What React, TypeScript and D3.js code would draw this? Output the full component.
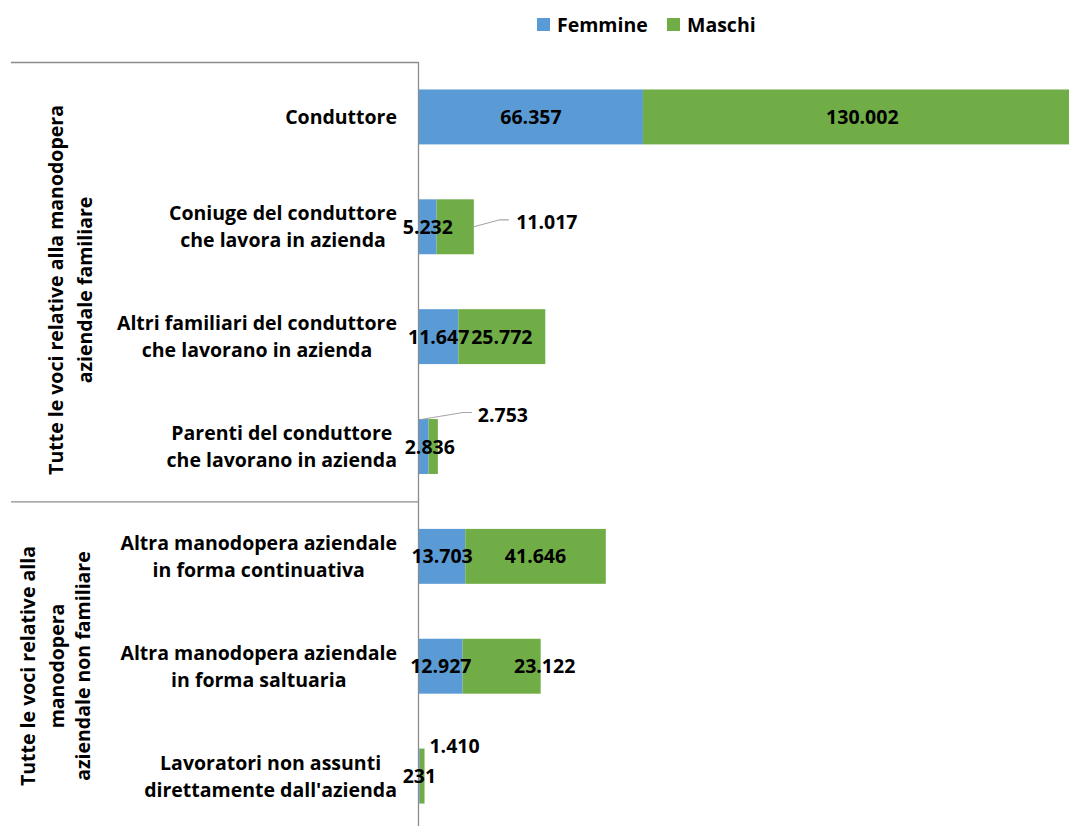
import React, { useEffect, useRef } from "react";
import * as d3 from "d3";

const categories: string[][] = [
  ["Conduttore"],
  ["Coniuge del conduttore", "che lavora in azienda"],
  ["Altri familiari del conduttore", "che lavorano in azienda"],
  ["Parenti del conduttore", "che lavorano in azienda"],
  ["Altra manodopera aziendale", "in forma continuativa"],
  ["Altra manodopera aziendale", "in forma saltuaria"],
  ["Lavoratori non assunti", "direttamente dall'azienda"],
];
const femmine = [66357, 5232, 11647, 2836, 13703, 12927, 231];
const maschi = [130002, 11017, 25772, 2753, 41646, 23122, 1410];
const seriesNames = ["Femmine", "Maschi"];
const groupLabels: string[][] = [
  ["Tutte le voci relative alla manodopera", "aziendale familiare"],
  ["Tutte le voci relative alla", "manodopera", "aziendale non familiare"],
];

const W = 1069;
const H = 826;
const FONT = "'Open Sans', 'Noto Sans', sans-serif";
const FS = 19.5;
const BLUE = "#5B9BD5";
const GREEN = "#70AD47";
const GRID = "#8c8c8c";

export default function App() {
  const ref = useRef<SVGSVGElement | null>(null);

  useEffect(() => {
    const svg = d3.select(ref.current);
    svg.selectAll("*").remove();

    const x = d3.scaleLinear().domain([0, 200000]).range([419, 1094]);
    const idx = categories.map((_, i) => String(i));
    const y = d3
      .scaleBand<string>()
      .domain(idx)
      .range([62, 831])
      .paddingInner(0.5)
      .paddingOuter(0.25);
    const bw = y.bandwidth();
    const step = y.step();

    const loc = d3.formatLocale({
      thousands: ".",
      decimal: ",",
      grouping: [3],
      currency: ["€", ""],
    });
    const fmt = loc.format(",d");

    const g = svg.append("g").attr("font-family", FONT).attr("font-weight", "bold");

    // structure lines
    const sepYs = [62, (y("3") as number) + bw + step * 0.25];
    sepYs.forEach((sy) => {
      g.append("line")
        .attr("x1", 11)
        .attr("x2", 418.5)
        .attr("y1", sy + 0.5)
        .attr("y2", sy + 0.5)
        .attr("stroke", GRID)
        .attr("stroke-width", 1.3);
    });
    g.append("line")
      .attr("x1", 418.5)
      .attr("x2", 418.5)
      .attr("y1", 62)
      .attr("y2", H)
      .attr("stroke", GRID)
      .attr("stroke-width", 1.3);

    // bars
    categories.forEach((_, i) => {
      const by = y(String(i)) as number;
      const f = femmine[i];
      const m = maschi[i];
      g.append("rect")
        .attr("x", x(0))
        .attr("y", by)
        .attr("width", x(f) - x(0))
        .attr("height", bw)
        .attr("fill", BLUE);
      g.append("rect")
        .attr("x", x(f))
        .attr("y", by)
        .attr("width", x(f + m) - x(f))
        .attr("height", bw)
        .attr("fill", GREEN);
    });

    // data labels
    const outside: Record<number, { dx: number; dy: number; leader?: [number, number][] }> = {
      1: { dx: 73, dy: -5, leader: [[0, 0], [26, -7], [35, -7]] },
      3: { dx: 65, dy: -32, leader: [[-17, -27], [25, -34], [34, -34]] },
      6: { dx: 30, dy: -30 },
    };
    const femShift: Record<number, number> = { 3: 6 };
    const masShift: Record<number, number> = { 5: 43 };
    categories.forEach((_, i) => {
      const cy = (y(String(i)) as number) + bw / 2;
      const f = femmine[i];
      const m = maschi[i];
      g.append("text")
        .attr("x", (x(0) + x(f)) / 2 + (femShift[i] || 0))
        .attr("y", cy)
        .attr("dy", "0.36em")
        .attr("text-anchor", "middle")
        .attr("font-size", FS)
        .attr("fill", "#000")
        .text(fmt(f));
      const o = outside[i];
      if (o) {
        const ex = x(f + m);
        if (o.leader) {
          g.append("polyline")
            .attr("points", o.leader.map(([a, b]) => `${ex + a},${cy + b}`).join(" "))
            .attr("fill", "none")
            .attr("stroke", "#a6a6a6")
            .attr("stroke-width", 1.2);
        }
        g.append("text")
          .attr("x", ex + o.dx)
          .attr("y", cy + o.dy)
          .attr("dy", "0.36em")
          .attr("text-anchor", "middle")
          .attr("font-size", FS)
          .attr("fill", "#000")
          .text(fmt(m));
      } else {
        g.append("text")
          .attr("x", Math.min((x(f) + x(f + m)) / 2, (x(f) + W) / 2 + 25) + (masShift[i] || 0))
          .attr("y", cy)
          .attr("dy", "0.36em")
          .attr("text-anchor", "middle")
          .attr("font-size", FS)
          .attr("fill", "#000")
          .text(fmt(m));
      }
    });

    // category labels (lines centred on each other, right-aligned block)
    const RIGHT = 397;
    const LH = 27;
    categories.forEach((lines, i) => {
      const cy = (y(String(i)) as number) + bw / 2;
      const texts = lines.map((ln, k) =>
        g
          .append("text")
          .attr("y", cy + (k - (lines.length - 1) / 2) * LH)
          .attr("dy", "0.36em")
          .attr("text-anchor", "middle")
          .attr("font-size", FS)
          .attr("fill", "#000")
          .text(ln)
      );
      const maxW = d3.max(texts, (t) => (t.node() as SVGTextElement).getComputedTextLength()) || 0;
      texts.forEach((t) => t.attr("x", RIGHT - maxW / 2));
    });

    // group labels (rotated)
    const groupCenters = [290, 666];
    const groupX = [[56, 85], [28, 57, 83]];
    groupLabels.forEach((lines, gi) => {
      lines.forEach((ln, k) => {
        g.append("text")
          .attr("transform", `translate(${groupX[gi][k]},${groupCenters[gi]}) rotate(-90)`)
          .attr("dy", "0.36em")
          .attr("text-anchor", "middle")
          .attr("font-size", FS)
          .attr("fill", "#000")
          .text(ln);
      });
    });

    // legend
    const legendItems = [
      { name: seriesNames[0], color: BLUE, sx: 537, tx: 557 },
      { name: seriesNames[1], color: GREEN, sx: 667, tx: 687 },
    ];
    legendItems.forEach((it) => {
      g.append("rect")
        .attr("x", it.sx)
        .attr("y", 18)
        .attr("width", 13)
        .attr("height", 13)
        .attr("fill", it.color);
      g.append("text")
        .attr("x", it.tx)
        .attr("y", 25)
        .attr("dy", "0.36em")
        .attr("font-size", FS)
        .attr("fill", "#000")
        .text(it.name);
    });
  }, []);

  return (
    <svg
      ref={ref}
      width={W}
      height={H}
      style={{ position: "absolute", left: 0, top: 0, display: "block", background: "#fff" }}
    />
  );
}
